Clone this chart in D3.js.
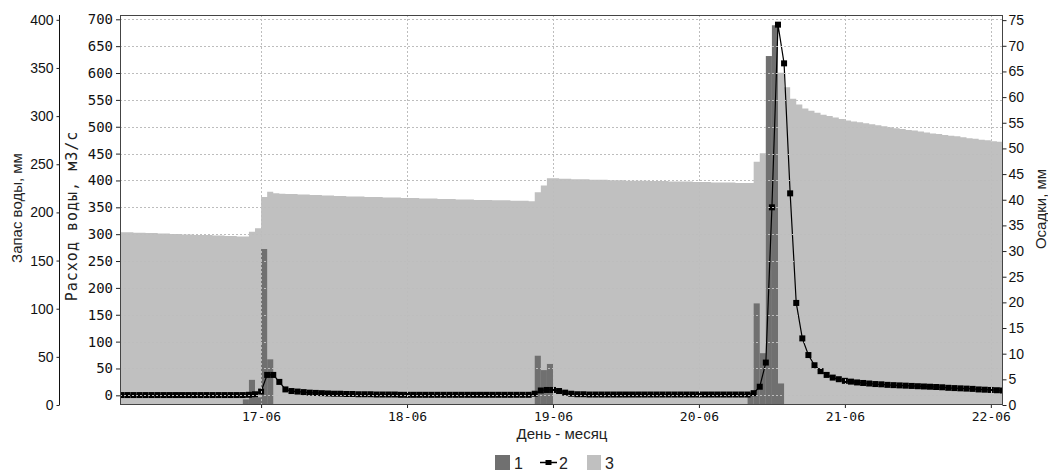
<!DOCTYPE html>
<html>
<head>
<meta charset="utf-8">
<script src="https://cdn.jsdelivr.net/npm/d3@7"></script>
<style>
  body { margin: 0; background: #fff; }
  svg { display: block; }
  .sans { font-family: "Liberation Sans", Arial, sans-serif; }
  .mono { font-family: "DejaVu Sans Mono", monospace; }
</style>
</head>
<body>
<svg id="chart" width="1048" height="473"></svg>
<script>
// Hourly series from 16-06 01:00 to 22-06 02:00 (146 values)
const firstHour = "16-06 01:00";

// 2: Расход воды, м3/с (line)
const discharge = [
  // 16-06 01:00 .. 23:00
  0.5, 0.5, 0.5, 0.5, 0.5, 0.5, 0.5, 0.5, 0.5, 0.5, 0.5, 0.5, 0.5, 0.5, 0.5, 0.5, 0.5, 0.5, 0.5, 0.5, 0.5, 1, 2,
  // 17-06
  7, 38, 38, 25, 11, 8, 7, 6, 5, 4.5, 4, 3.5, 3, 3, 2.5, 2.5, 2, 2, 2, 1.5, 1.5, 1.5, 1.5, 1,
  // 18-06
  1, 1, 1, 1, 1, 1, 1, 1, 1, 1, 1, 1, 1, 1, 1, 1, 1, 1, 1, 1, 1, 3, 9, 10,
  // 19-06
  10, 8, 5, 3, 2, 2, 1.5, 1.5, 1.5, 1.5, 1.5, 1.5, 1.5, 1.5, 1.5, 1.5, 1.5, 1.5, 1.5, 1.5, 1.5, 1.5, 1.5, 1.5,
  // 20-06
  1.5, 1.5, 1.5, 1.5, 1.5, 1.5, 1.5, 1.5, 1.5, 4, 16, 61, 350, 690, 618, 376, 172, 106, 75, 56, 45, 38, 33, 30,
  // 21-06
  27, 25.5, 24, 23, 22, 21, 20.5, 19.5, 19, 18.5, 18, 17.5, 17, 16.5, 16, 15.5, 15, 14, 13.5, 13, 12.5, 12, 11, 10.5,
  // 22-06 00:00 .. 02:00
  10, 9.5, 9
];

// 3: Запас воды, мм (step area, value covers the hour ending at its timestamp)
const storage = [
  // 16-06
  180, 179.5, 179.5, 179, 179, 178.5, 178.5, 178, 178, 177.5, 177.5, 177, 177, 176.5, 176.5, 176.5, 176, 176, 175.5, 175.5, 175, 175, 180,
  // 17-06
  183.5, 216, 221.5, 220, 219.5, 219, 219, 218.5, 218.5, 218, 218, 217.5, 217.5, 217, 217, 216.5, 216.5, 216.5, 216, 216, 216, 215.5, 215.5, 215.5,
  // 18-06
  215, 215, 215, 214.5, 214.5, 214.5, 214, 214, 214, 213.5, 213.5, 213.5, 213, 213, 213, 212.5, 212.5, 212.5, 212, 212, 212, 211.5, 221, 228,
  // 19-06
  235.5, 235.5, 235, 235, 234.5, 234.5, 234.5, 234, 234, 234, 233.5, 233.5, 233.5, 233, 233, 233, 233, 232.5, 232.5, 232.5, 232, 232, 232, 232,
  // 20-06
  231.5, 231.5, 231.5, 231, 231, 231, 231, 230.5, 230.5, 230.5, 252.5, 261.5, 290, 320, 345, 330, 318, 312, 308, 305.5, 303.5, 301.5, 300, 298.5,
  // 21-06
  297, 295.5, 294.5, 293.5, 292.5, 291.5, 290.5, 289.5, 288.5, 287.5, 286.5, 285.5, 285, 284, 283, 282, 281.5, 280.5, 279.5, 279, 278, 277, 276.5, 275.5,
  // 22-06
  275, 274, 273.5
];

// 1: Осадки, мм (hourly bars, only non-zero hours; timestamp = end of hour)
const precipTimes = [
  "16-06 22:00", "16-06 23:00", "17-06 00:00", "17-06 01:00", "17-06 02:00",
  "18-06 22:00", "18-06 23:00", "19-06 00:00",
  "20-06 09:00", "20-06 10:00", "20-06 11:00", "20-06 12:00", "20-06 13:00", "20-06 14:00"
];
const precipValues = [1.1, 4.9, 1.5, 30.4, 8.9, 9.6, 6.8, 8.0, 2.0, 19.8, 10.1, 68, 74, 4.2];

const dayTicks = ["17-06", "18-06", "19-06", "20-06", "21-06", "22-06"];
const dischargeTicks = d3.range(0, 701, 50);
const storageTicks = d3.range(0, 401, 50);
const precipTicks = d3.range(0, 76, 5);
const legendLabels = ["1", "2", "3"];

// ---- layout ----
const plot = { left: 120, right: 1003, top: 15, bottom: 405 };
const colors = { precip: "#707070", storage: "#c0c0c0", line: "#000", grid: "#bdbdbd", frame: "#444" };

const parseT = d3.timeParse("%d-%m %H:%M");
const parseDay = d3.timeParse("%d-%m");
const HOUR = 3600 * 1000;
const t0 = parseT(firstHour);
const hourly = discharge.map((_, i) => new Date(+t0 + i * HOUR));

const x = d3.scaleTime()
  .domain([parseT("16-06 00:48"), parseT("22-06 02:00")])
  .range([plot.left, plot.right]);
const yFlow = d3.scaleLinear().domain([-18, 708]).range([plot.bottom, plot.top]);
const yStore = d3.scaleLinear().domain([0, 405]).range([plot.bottom, plot.top]);
const yRain = d3.scaleLinear().domain([0, 76]).range([plot.bottom, plot.top]);

const svg = d3.select("#chart");

svg.append("defs").append("clipPath").attr("id", "plotClip")
  .append("rect")
  .attr("x", plot.left).attr("y", plot.top)
  .attr("width", plot.right - plot.left).attr("height", plot.bottom - plot.top);

const g = svg.append("g").attr("clip-path", "url(#plotClip)");

// storage area (step)
const storePts = storage.map((v, i) => ({ t: new Date(+hourly[i] - HOUR), v }));
storePts.push({ t: hourly[hourly.length - 1], v: storage[storage.length - 1] });

g.append("path")
  .datum(storePts)
  .attr("fill", colors.storage)
  .attr("d", d3.area()
    .curve(d3.curveStepAfter)
    .x(d => x(d.t))
    .y0(yStore(0))
    .y1(d => yStore(d.v)));

// precipitation bars
g.selectAll("rect.rain")
  .data(precipTimes.map((s, i) => ({ t: parseT(s), v: precipValues[i] })))
  .join("rect")
  .attr("class", "rain")
  .attr("x", d => x(new Date(+d.t - HOUR)))
  .attr("width", d => x(d.t) - x(new Date(+d.t - HOUR)))
  .attr("y", d => yRain(d.v))
  .attr("height", d => yRain(0) - yRain(d.v))
  .attr("fill", colors.precip);

// discharge line with square markers
const flowPts = discharge.map((v, i) => ({ t: hourly[i], v }));
g.append("path")
  .datum(flowPts)
  .attr("fill", "none")
  .attr("stroke", colors.line)
  .attr("stroke-width", 1.2)
  .attr("d", d3.line().x(d => x(d.t)).y(d => yFlow(d.v)));

g.selectAll("rect.mk")
  .data(flowPts)
  .join("rect")
  .attr("class", "mk")
  .attr("x", d => x(d.t) - 3)
  .attr("y", d => yFlow(d.v) - 3)
  .attr("width", 6).attr("height", 6)
  .attr("fill", colors.line);

// grid on top
const grid = svg.append("g")
  .attr("stroke", colors.grid)
  .attr("stroke-width", 1)
  .attr("stroke-dasharray", "2,2");
grid.selectAll("line.h")
  .data(dischargeTicks)
  .join("line")
  .attr("x1", plot.left).attr("x2", plot.right)
  .attr("y1", d => Math.round(yFlow(d)) + 0.5)
  .attr("y2", d => Math.round(yFlow(d)) + 0.5);
grid.selectAll("line.v")
  .data(dayTicks)
  .join("line")
  .attr("y1", plot.top).attr("y2", plot.bottom)
  .attr("x1", d => Math.round(x(parseDay(d))) + 0.5)
  .attr("x2", d => Math.round(x(parseDay(d))) + 0.5);

// frame
svg.append("rect")
  .attr("x", plot.left + 0.5).attr("y", plot.top + 0.5)
  .attr("width", plot.right - plot.left - 1).attr("height", plot.bottom - plot.top - 1)
  .attr("fill", "none").attr("stroke", colors.frame);

// ---- axes ----
function styleAxis(sel, cls, size) {
  sel.selectAll("text").attr("class", cls).style("font-size", size + "px").attr("fill", "#111");
  sel.selectAll("line").attr("stroke", "#222");
  sel.attr("font-family", null);
}

const axOuter = svg.append("g")
  .attr("transform", "translate(59.5,0)")
  .call(d3.axisLeft(yStore).tickValues(storageTicks).tickSize(3).tickSizeOuter(0).tickPadding(3));
axOuter.select(".domain").attr("stroke", "#111").attr("d", `M0,${plot.top}V${plot.bottom}`);
styleAxis(axOuter, "sans", 14);

const axFlow = svg.append("g")
  .attr("transform", `translate(${plot.left},0)`)
  .call(d3.axisLeft(yFlow).tickValues(dischargeTicks).tickSize(4).tickSizeOuter(0).tickPadding(3));
axFlow.select(".domain").remove();
styleAxis(axFlow, "mono", 14);

const axRain = svg.append("g")
  .attr("transform", `translate(${plot.right - 0.5},0)`)
  .call(d3.axisRight(yRain).tickValues(precipTicks).tickSize(4).tickSizeOuter(0).tickPadding(2));
axRain.select(".domain").remove();
styleAxis(axRain, "sans", 14);

const axX = svg.append("g")
  .attr("transform", `translate(0,${plot.bottom})`)
  .call(d3.axisBottom(x).tickValues(dayTicks.map(parseDay)).tickFormat(d3.timeFormat("%d-%m"))
    .tickSize(3).tickSizeOuter(0).tickPadding(4));
axX.select(".domain").remove();
styleAxis(axX, "mono", 13);

// ---- titles ----
svg.append("text").attr("class", "sans")
  .attr("transform", "translate(16,208) rotate(-90)")
  .attr("text-anchor", "middle").attr("dominant-baseline", "central")
  .style("font-size", "15px").attr("fill", "#222")
  .text("Запас воды, мм");

svg.append("text").attr("class", "mono")
  .attr("transform", "translate(72,216) rotate(-90)")
  .attr("text-anchor", "middle").attr("dominant-baseline", "central")
  .style("font-size", "15px").style("letter-spacing", "1px").attr("fill", "#222")
  .text("Расход воды, м3/с");

svg.append("text").attr("class", "sans")
  .attr("transform", "translate(1040,209) rotate(-90)")
  .attr("text-anchor", "middle").attr("dominant-baseline", "central")
  .style("font-size", "15px").attr("fill", "#222")
  .text("Осадки, мм");

svg.append("text").attr("class", "sans")
  .attr("x", 562).attr("y", 433)
  .attr("text-anchor", "middle").attr("dominant-baseline", "central")
  .style("font-size", "15px").attr("fill", "#222")
  .text("День - месяц");

// ---- legend ----
const lg = svg.append("g").attr("class", "sans").style("font-size", "16px").attr("fill", "#222");
lg.append("rect").attr("x", 495).attr("y", 455).attr("width", 15).attr("height", 15).attr("fill", colors.precip);
lg.append("text").attr("x", 514).attr("y", 469).text(legendLabels[0]);
lg.append("line").attr("x1", 540).attr("x2", 557).attr("y1", 462.5).attr("y2", 462.5)
  .attr("stroke", colors.line).attr("stroke-width", 1.5);
lg.append("rect").attr("x", 545.5).attr("y", 460).attr("width", 6).attr("height", 5).attr("fill", colors.line);
lg.append("text").attr("x", 559).attr("y", 469).text(legendLabels[1]);
lg.append("rect").attr("x", 587).attr("y", 455).attr("width", 14).attr("height", 15).attr("fill", colors.storage);
lg.append("text").attr("x", 605).attr("y", 469).text(legendLabels[2]);
</script>
</body>
</html>
